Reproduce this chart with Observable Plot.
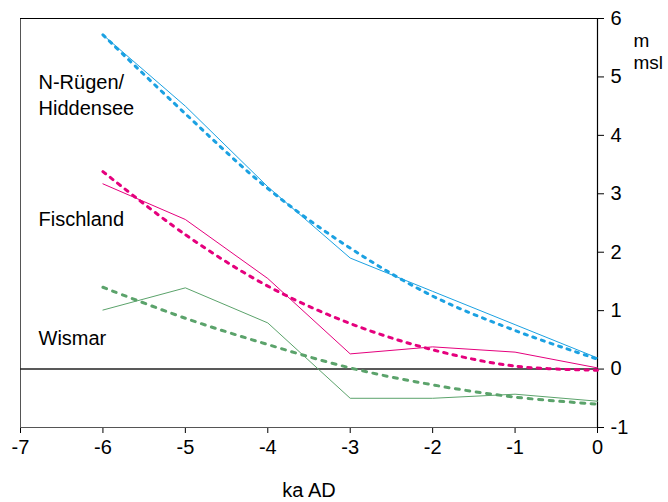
<!DOCTYPE html>
<html>
<head>
<meta charset="utf-8">
<script src="https://cdn.jsdelivr.net/npm/d3@7"></script>
<script src="https://cdn.jsdelivr.net/npm/@observablehq/plot@0.6"></script>
<style>
  html, body { margin: 0; padding: 0; background: #fff; }
  svg { display: block; }
</style>
</head>
<body>
<div id="chart"></div>
<script>
const xTicks = [-7, -6, -5, -4, -3, -2, -1, 0];
const yTicks = [-1, 0, 1, 2, 3, 4, 5, 6];

// observed (solid) curves
const ruegenX = [-6, -5, -4, -3, -2, -1, 0];
const ruegenObs = [5.72, 4.5, 3.12, 1.9, 1.33, 0.76, 0.19];
const fischX = [-6, -5, -4, -3, -2, -1, 0];
const fischObs = [3.17, 2.56, 1.55, 0.26, 0.38, 0.29, 0.02];
const wismarX = [-6, -5, -4, -3, -2, -1, 0];
const wismarObs = [1.01, 1.39, 0.79, -0.5, -0.5, -0.43, -0.55];

// model (dashed) curves
const modelX = [-6, -5, -4, -3, -2, -1, 0];
const ruegenModel = [5.72, 4.37, 3.09, 2.07, 1.25, 0.66, 0.17];
const fischModel = [3.38, 2.3, 1.42, 0.78, 0.33, 0.05, -0.02];
const wismarModel = [1.4, 0.87, 0.42, 0.02, -0.27, -0.48, -0.6];

const seriesNames = ["N-Rügen/\nHiddensee", "Fischland", "Wismar"];
const seriesColors = ["#1ba1e2", "#e5007d", "#5ba36b"];
const seriesDash = ["3,6", "3.5,6", "4,6.5"];
const labelY = [4.71, 2.59, 0.556];

const toRows = (xs, ys) => xs.map((x, i) => ({x, y: ys[i]}));

const solid = [
  toRows(ruegenX, ruegenObs),
  toRows(fischX, fischObs),
  toRows(wismarX, wismarObs)
];
const dashed = [
  toRows(modelX, ruegenModel),
  toRows(modelX, fischModel),
  toRows(modelX, wismarModel)
];

const labels = seriesNames.map((name, i) => ({name, y: labelY[i]}));

const font = "'Liberation Sans', Arial, Helvetica, sans-serif";

const chart = Plot.plot({
  width: 668,
  height: 502,
  marginLeft: 20,
  marginRight: 71,
  marginTop: 18,
  marginBottom: 75,
  style: {fontFamily: font, fontSize: "20px", color: "#000", background: "#fff"},
  x: {domain: [-7, 0]},
  y: {domain: [-1, 6]},
  marks: [
    Plot.axisX({ticks: xTicks, tickFormat: d => d === 0 ? "0" : "-" + Math.abs(d), tickSize: 6, tickPadding: 6, fontSize: 20, label: null}),
    Plot.axisY({anchor: "right", ticks: yTicks, tickFormat: d => d < 0 ? "-" + Math.abs(d) : String(d), tickSize: 6, tickPadding: 7, fontSize: 20, label: null}),
    // frame
    Plot.ruleX([-7], {stroke: "#555", strokeWidth: 1}),
    Plot.ruleY([6], {stroke: "#000", strokeWidth: 1}),
    Plot.ruleY([-1], {stroke: "#555", strokeWidth: 1}),
    Plot.ruleX([0], {stroke: "#000", strokeWidth: 1.2}),
    // zero line
    Plot.ruleY([0], {stroke: "#222", strokeWidth: 1.5}),
    ...dashed.map((d, i) => Plot.line(d, {x: "x", y: "y", stroke: seriesColors[i], strokeWidth: 3, strokeDasharray: seriesDash[i], curve: "catmull-rom"})),
    ...solid.map((d, i) => Plot.line(d, {x: "x", y: "y", stroke: seriesColors[i], strokeWidth: 1})),
    Plot.text(labels, {x: () => -7, y: "y", text: "name", dx: 18, textAnchor: "start", lineAnchor: "middle", fontSize: 20, lineHeight: 1.3, fill: "#000"}),
    Plot.text(["m\nmsl"], {x: () => 0, y: () => 5.45, dx: 36, textAnchor: "start", lineAnchor: "middle", fontSize: 19, lineHeight: 1.15, fill: "#000"}),
    Plot.text(["ka AD"], {frameAnchor: "bottom", dy: 63, lineAnchor: "middle", fontSize: 20, fill: "#000"})
  ]
});
document.getElementById("chart").appendChild(chart);
</script>
</body>
</html>
